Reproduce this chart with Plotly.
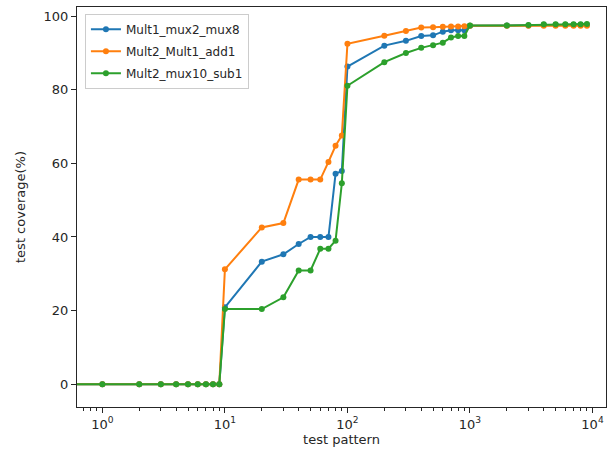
import plotly.graph_objects as go

# test pattern counts (0 is clipped to the left edge on the log axis, as matplotlib does)
test_pattern = [0, 1, 2, 3, 4, 5, 6, 7, 8, 9,
                10, 20, 30, 40, 50, 60, 70, 80, 90,
                100, 200, 300, 400, 500, 600, 700, 800, 900,
                1000, 2000, 3000, 4000, 5000, 6000, 7000, 8000, 9000]

mult1_mux2_mux8 = [0, 0, 0, 0, 0, 0, 0, 0, 0, 0,
                   20.9, 33.3, 35.3, 38.1, 40.0, 40.0, 40.0, 57.2, 57.9,
                   86.3, 92.0, 93.3, 94.6, 94.8, 95.8, 96.2, 96.2, 96.2,
                   97.4, 97.5, 97.5, 97.7, 97.7, 97.7, 97.7, 97.7, 97.7]

mult2_mult1_add1 = [0, 0, 0, 0, 0, 0, 0, 0, 0, 0,
                    31.2, 42.6, 43.8, 55.6, 55.6, 55.6, 60.4, 64.8, 67.6,
                    92.5, 94.7, 96.0, 96.9, 97.0, 97.1, 97.2, 97.2, 97.3,
                    97.4, 97.4, 97.4, 97.4, 97.4, 97.4, 97.4, 97.4, 97.4]

mult2_mux10_sub1 = [0, 0, 0, 0, 0, 0, 0, 0, 0, 0,
                    20.4, 20.4, 23.6, 30.9, 30.9, 36.8, 36.8, 39.0, 54.6,
                    81.1, 87.5, 90.0, 91.4, 92.1, 92.8, 94.2, 94.6, 94.6,
                    97.5, 97.5, 97.6, 97.8, 97.8, 97.8, 97.8, 97.8, 97.9]

series_names = ["Mult1_mux2_mux8", "Mult2_Mult1_add1", "Mult2_mux10_sub1"]
series_values = [mult1_mux2_mux8, mult2_mult1_add1, mult2_mux10_sub1]
colors = ["#1f77b4", "#ff7f0e", "#2ca02c"]

major_ticks = [1, 10, 100, 1000, 10000]
major_labels = ["10<sup>0</sup>", "10<sup>1</sup>", "10<sup>2</sup>", "10<sup>3</sup>", "10<sup>4</sup>"]
minor_ticks = [m * 10 ** e for e in range(-1, 5) for m in range(2, 10)]
y_ticks = [0, 20, 40, 60, 80, 100]

x_range_log = [-0.207, 4.11]
# matplotlib clips nonpositive values far off the left edge
x_plot = [x if x > 0 else 1e-4 for x in test_pattern]

fig = go.Figure()
for name, vals, col in zip(series_names, series_values, colors):
    fig.add_trace(go.Scatter(
        x=x_plot, y=vals, name=name, mode="lines+markers",
        legendgroup=name,
        line=dict(color=col, width=2),
        marker=dict(color=col, size=6),
        cliponaxis=True,
    ))

axis_font = dict(family="DejaVu Sans", size=13, color="#262626")
fig.update_layout(
    width=612, height=454,
    margin=dict(l=77, r=6, t=7, b=47),
    paper_bgcolor="white", plot_bgcolor="white",
    font=axis_font,
    showlegend=True,
    legend=dict(x=0.015, y=0.983, xanchor="left", yanchor="top",
                bgcolor="rgba(255,255,255,0.8)", bordercolor="#cccccc", borderwidth=1,
                font=dict(family="DejaVu Sans", size=12, color="#262626"),
                itemwidth=30, tracegroupgap=3),
    xaxis=dict(type="log", range=x_range_log, automargin=False,
               tickmode="array", tickvals=major_ticks, ticktext=major_labels,
               ticks="outside", ticklen=5, tickwidth=1, tickcolor="#262626",
               minor=dict(tickmode="array", tickvals=minor_ticks, ticks="outside",
                          ticklen=3, tickwidth=1, tickcolor="#262626", showgrid=False),
               showline=True, linecolor="#262626", linewidth=1, mirror=True,
               showgrid=False, zeroline=False,
               title=dict(text="test pattern", font=axis_font, standoff=2)),
    yaxis=dict(range=[-6.2, 102.5], automargin=False,
               tickmode="array", tickvals=y_ticks,
               ticks="outside", ticklen=5, tickwidth=1, tickcolor="#262626",
               showline=True, linecolor="#262626", linewidth=1, mirror=True,
               showgrid=False, zeroline=False,
               title=dict(text="test coverage(%)", font=axis_font)),
)

fig.write_html("out.html", config={"displayModeBar": False},
               post_script="document.body.style.margin='0';document.body.style.overflow='hidden';")
